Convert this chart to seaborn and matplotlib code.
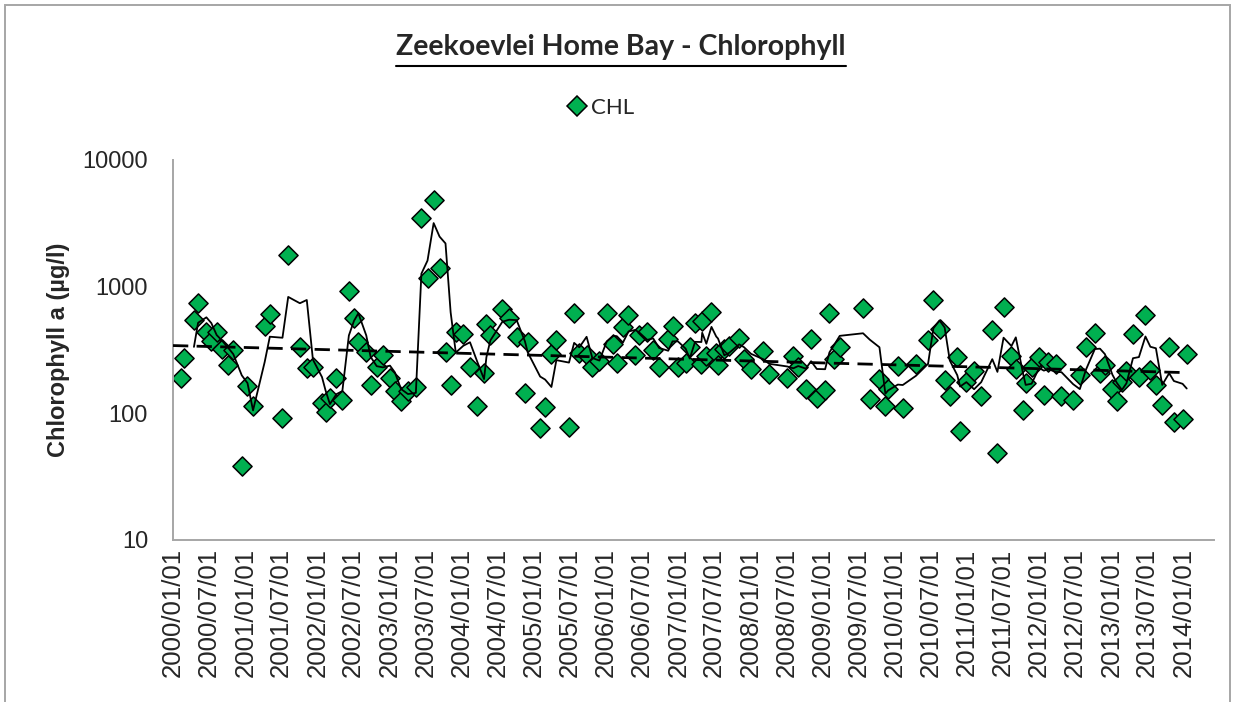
import matplotlib
matplotlib.use('Agg')
import matplotlib.dates as mdates
import matplotlib.pyplot as plt
import numpy as np
import pandas as pd
import seaborn as sns
from matplotlib.lines import Line2D
from matplotlib.patches import Rectangle
from matplotlib.ticker import FuncFormatter, NullLocator

# Sampling dates and chlorophyll a readings (ug/l)
sample_dates = [
    '2000-02-11', '2000-02-26', '2000-04-16', '2000-05-07', '2000-06-18', '2000-07-13',
    '2000-08-09', '2000-09-04', '2000-10-03', '2000-11-01', '2000-12-14', '2001-01-12',
    '2001-02-09', '2001-04-09', '2001-05-05', '2001-07-08', '2001-08-06', '2001-10-04',
    '2001-11-08', '2001-12-09', '2002-01-24', '2002-02-11', '2002-03-05', '2002-04-07',
    '2002-05-07', '2002-06-09', '2002-07-05', '2002-07-27', '2002-09-05', '2002-09-27',
    '2002-10-28', '2002-11-28', '2003-01-03', '2003-01-28', '2003-02-28', '2003-04-04',
    '2003-05-14', '2003-06-11', '2003-07-12', '2003-08-12', '2003-09-11', '2003-10-11',
    '2003-11-06', '2003-12-02', '2004-01-09', '2004-02-12', '2004-03-19', '2004-04-23',
    '2004-05-05', '2004-05-25', '2004-07-25', '2004-08-28', '2004-10-05', '2004-11-16',
    '2004-11-30', '2005-02-01', '2005-02-26', '2005-03-30', '2005-04-24', '2005-06-27',
    '2005-07-23', '2005-08-18', '2005-09-24', '2005-10-23', '2005-11-28', '2006-01-04',
    '2006-02-07', '2006-02-24', '2006-03-27', '2006-04-24', '2006-05-28', '2006-06-18',
    '2006-07-28', '2006-08-27', '2006-09-26', '2006-11-11', '2006-12-03', '2006-12-30',
    '2007-02-07', '2007-02-28', '2007-03-27', '2007-04-28', '2007-05-02', '2007-05-23',
    '2007-06-18', '2007-07-12', '2007-07-21', '2007-08-22', '2007-09-16', '2007-11-05',
    '2007-11-29', '2008-01-04', '2008-03-07', '2008-04-05', '2008-07-06', '2008-08-05',
    '2008-08-30', '2008-10-07', '2008-11-03', '2008-12-02', '2009-01-13', '2009-02-04',
    '2009-03-01', '2009-03-28', '2009-07-24', '2009-08-27', '2009-10-15', '2009-11-14',
    '2009-11-28', '2010-01-16', '2010-02-10', '2010-04-18', '2010-06-18', '2010-07-15',
    '2010-08-15', '2010-09-10', '2010-10-06', '2010-11-13', '2010-11-27', '2010-12-29',
    '2011-02-06', '2011-03-14', '2011-05-09', '2011-06-04', '2011-07-05', '2011-08-14',
    '2011-09-05', '2011-10-12', '2011-10-25', '2011-11-24', '2012-01-01', '2012-01-25',
    '2012-02-16', '2012-03-25', '2012-04-23', '2012-06-21', '2012-07-25', '2012-08-25',
    '2012-10-09', '2012-11-04', '2012-11-29', '2013-01-06', '2013-01-28', '2013-02-23',
    '2013-03-18', '2013-04-20', '2013-05-20', '2013-06-22', '2013-07-17', '2013-08-14',
    '2013-09-15', '2013-10-20', '2013-11-13', '2013-12-27', '2014-01-17',
]
chl_values = [
    190, 273, 541, 742, 435, 370,
    440, 320, 242, 318, 38.7, 163,
    115, 485, 608, 92.6, 1790, 337,
    228, 232, 120, 103, 132, 190,
    128, 918, 566, 365, 305, 168,
    234, 290, 190, 151, 126, 149,
    160, 3490, 1170, 4870, 1410, 305,
    166, 435, 423, 234, 115, 210,
    507, 412, 667, 566, 400, 144,
    365, 76.4, 113, 295, 381, 78.6,
    620, 297, 289, 234, 260, 615,
    354, 250, 482, 597, 287, 418,
    435, 318, 232, 386, 492, 232,
    249, 331, 520, 246, 532, 285,
    627, 300, 242, 320, 340, 392,
    268, 225, 308, 205, 190, 285,
    234, 157, 383, 132, 154, 623,
    270, 334, 682, 129, 186, 114,
    155, 237, 110, 247, 381, 780,
    463, 184, 137, 278, 73, 178,
    214, 137, 452, 48.4, 686, 285,
    223, 107, 173, 234, 278, 140,
    252, 245, 137, 128, 201, 334,
    430, 208, 242, 155, 126, 178,
    214, 425, 195, 593, 218, 168,
    117, 337, 86, 90, 295,
]
series_name = 'CHL'
ma_period = 3
axis_start, axis_end = '2000-01-01', '2014-06-04'
y_ticks = [10, 100, 1000, 10000]

W, H = 1235, 702
green = '#00B050'
grey = '#A6A6A6'

df = pd.DataFrame({'date': pd.to_datetime(sample_dates), 'CHL': chl_values}).sort_values('date')
df['moving_avg'] = df['CHL'].rolling(ma_period).mean()

# exponential trend (straight line on the log axis)
x_num = mdates.date2num(df['date'])
slope, intercept = np.polyfit(x_num, np.log(df['CHL']), 1)
trend = pd.DataFrame({'date': pd.to_datetime([axis_start, df['date'].max()])})
trend['CHL'] = np.exp(intercept + slope * mdates.date2num(trend['date']))

sns.set_style('white')
plt.rcParams['font.family'] = ['Liberation Sans', 'DejaVu Sans']

fig = plt.figure(figsize=(W / 100, H / 100), dpi=100)
ax = fig.add_axes([173 / W, 1 - 540 / H, (1214 - 173) / W, (540 - 160) / H])

sns.scatterplot(data=df, x='date', y='CHL', marker='D', s=95, color=green,
                edgecolor='black', linewidth=1.1, ax=ax, zorder=2, legend=False)
sns.lineplot(data=df.dropna(), x='date', y='moving_avg', color='black', lw=1.3,
             estimator=None, ax=ax, zorder=3, legend=False)
sns.lineplot(data=trend, x='date', y='CHL', color='black', lw=2.0, dashes=False,
             ax=ax, zorder=3, legend=False)
ax.lines[-1].set_linestyle((0, (5.5, 3)))

ax.set_yscale('log')
ax.set_ylim(y_ticks[0], y_ticks[-1])
ax.set_yticks(y_ticks)
ax.yaxis.set_major_formatter(FuncFormatter(lambda v, _: f'{v:g}'))
ax.yaxis.set_minor_locator(NullLocator())
ax.set_xlim(pd.Timestamp(axis_start), pd.Timestamp(axis_end))
ax.xaxis.set_major_locator(mdates.MonthLocator(bymonth=[1, 7]))
ax.xaxis.set_major_formatter(mdates.DateFormatter('%Y/%m/%d'))
ax.tick_params(axis='x', direction='in', length=7, width=1.2, color=grey,
               labelsize=18.5, rotation=90, pad=6)
ax.tick_params(axis='y', length=0, labelsize=17, pad=18)
ax.set_xlabel('')
ax.set_ylabel('')
for side in ['top', 'right']:
    ax.spines[side].set_visible(False)
for side in ['left', 'bottom']:
    ax.spines[side].set_color(grey)
    ax.spines[side].set_linewidth(1.4)

fig.text(58 / W, 1 - 350 / H, 'Chlorophyll a (µg/l)', rotation=90, ha='center', va='center',
         fontsize=17, fontweight='bold')

# title with underline
title = fig.text(621 / W, 1 - 47 / H, 'Zeekoevlei Home Bay - Chlorophyll', ha='center', va='center',
                 fontsize=20.5, fontweight='bold', family=['Lato', 'DejaVu Sans'])
fig.canvas.draw()
bb = title.get_window_extent()
fig.add_artist(Line2D([bb.x0 / W, bb.x1 / W], [(H - 66) / H] * 2, color='black', lw=1.5,
                      transform=fig.transFigure))

handle = Line2D([], [], marker='D', ls='none', markersize=10, markerfacecolor=green,
                markeredgecolor='black', markeredgewidth=1.1)
fig.legend([handle], [series_name], loc='center', bbox_to_anchor=(600 / W, 1 - 108 / H),
           frameon=False, handletextpad=0.1, handlelength=1.0,
           prop={'family': ['Lato', 'DejaVu Sans'], 'size': 16})

fig.add_artist(Rectangle((5 / W, -0.05), (1230 - 5) / W, 1.05 - 5 / H, fill=False,
                         edgecolor=grey, lw=1.4, transform=fig.transFigure))

fig.savefig('out.png', dpi=100)
